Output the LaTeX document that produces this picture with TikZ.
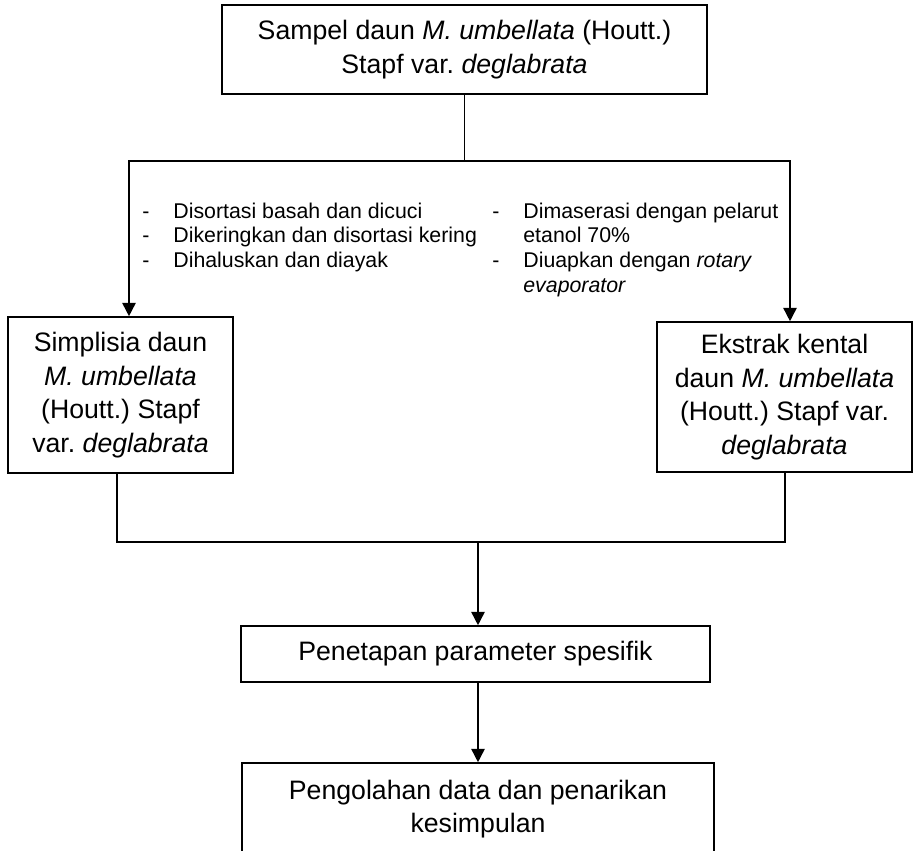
\documentclass[tikz,border=0pt]{standalone}
\usepackage{fontspec}
\setmainfont{Liberation Sans}
\frenchspacing
\usetikzlibrary{arrows.meta, positioning, calc}

\tikzset{
  flowbox/.style={draw, line width=1.2pt, align=center, inner sep=0pt,
    font=\fontsize{20}{25.1}\selectfont},
  steplist/.style={inner sep=0pt, anchor=base west,
    font=\fontsize{16}{18.5}\selectfont},
  flowline/.style={line width=1.2pt},
  flowarrow/.style={line width=1.2pt, -{Triangle[length=10pt, width=10pt]}},
}

\begin{document}
\begin{tikzpicture}[x=0.75pt, y=-0.75pt]
\useasboundingbox (0,0) rectangle (913,850);
\clip (0,0) rectangle (913,850);

% Boxes
\node[flowbox, minimum width=485*0.75pt, minimum height=89*0.75pt] (sampel) at (464.5,49.5)
  {Sampel daun \textit{M. umbellata} (Houtt.)\\Stapf var. \textit{deglabrata}};
\node[flowbox, minimum width=225*0.75pt, minimum height=156*0.75pt] (simplisia) at (120.5,395)
  {Simplisia daun\\\textit{M. umbellata}\\(Houtt.) Stapf\\var. \textit{deglabrata}};
\node[flowbox, minimum width=255*0.75pt, minimum height=150*0.75pt] (ekstrak) at (784.5,397)
  {Ekstrak kental\\daun \textit{M. umbellata}\\(Houtt.) Stapf var.\\\textit{deglabrata}};
\node[flowbox, minimum width=469*0.75pt, minimum height=56*0.75pt] (penetapan) at (475.5,654)
  {Penetapan parameter spesifik};
\node[flowbox, minimum width=472*0.75pt, minimum height=92*0.75pt] (pengolahan) at (478,809)
  {Pengolahan data dan penarikan\\kesimpulan};

% Branch points
\coordinate (split) at (sampel.south |- 0,161);
\coordinate (splitL) at (129,161);
\coordinate (splitR) at (790,161);
\coordinate (joinL) at (117,542);
\coordinate (joinR) at (785,542);
\coordinate (merge) at (478,542);

% Connectors
\draw[flowline] (sampel.south) -- (split);
\draw[flowline, {Triangle[length=10pt, width=10pt]}-{Triangle[length=10pt, width=10pt]}]
  (splitL |- simplisia.north) -- (splitL) -- (splitR) -- (splitR |- ekstrak.north);
\draw[flowline] (joinL |- simplisia.south) -- (joinL) -- (joinR) -- (joinR |- ekstrak.south);
\draw[flowarrow] (merge) -- (merge |- penetapan.north);
\draw[flowarrow] (penetapan.south -| pengolahan.north) -- (pengolahan.north);

% Process steps
\node[steplist] (keringSteps) at (142,218) {\begin{tabular}[t]{@{}l@{\hspace{18pt}}l@{}}
  - & Disortasi basah dan dicuci\\
  - & Dikeringkan dan disortasi kering\\
  - & Dihaluskan dan diayak
\end{tabular}};
\node[steplist] (ekstrakSteps) at (492,218) {\begin{tabular}[t]{@{}l@{\hspace{18pt}}l@{}}
  - & Dimaserasi dengan pelarut\\
    & etanol 70\%\\
  - & Diuapkan dengan \textit{rotary}\\
    & \textit{evaporator}
\end{tabular}};

\end{tikzpicture}
\end{document}
